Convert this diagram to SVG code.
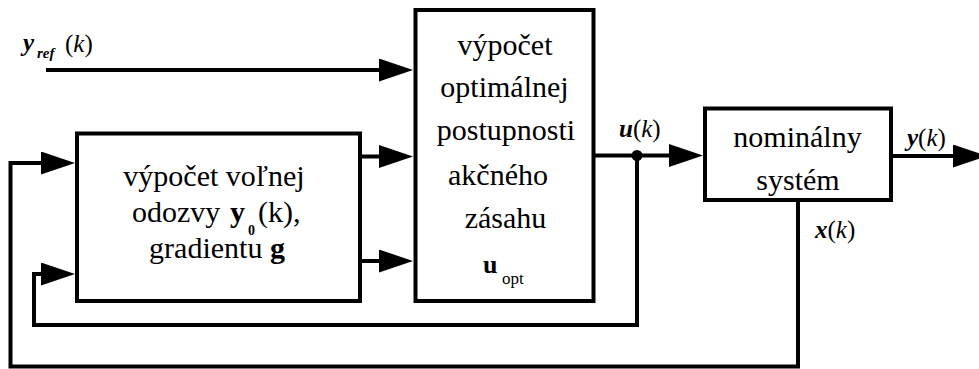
<svg xmlns="http://www.w3.org/2000/svg" width="979" height="369" viewBox="0 0 979 369">
  <style>
    .box { fill: #fff; stroke: #000; stroke-width: 4; }
    .wire { fill: none; stroke: #000; stroke-width: 4; stroke-linejoin: miter; stroke-linecap: butt; }
    .bi { font-weight: bold; font-style: italic; }
    .b { font-weight: bold; }
    .i { font-style: italic; }
  </style>
  <defs>
    <marker id="arrow" markerUnits="userSpaceOnUse" markerWidth="34" markerHeight="23" refX="14" refY="11.5" orient="auto">
      <path d="M0,0 L34,11.5 L0,23 Z" fill="#000"/>
    </marker>
  </defs>

  <!-- signal lines -->
  <g id="connectors">
    <path class="wire" d="M46 70 H393" marker-end="url(#arrow)"/>
    <path class="wire" d="M361 156.5 H393" marker-end="url(#arrow)"/>
    <path class="wire" d="M361 261 H393" marker-end="url(#arrow)"/>
    <path class="wire" d="M593 155.5 H683" marker-end="url(#arrow)"/>
    <path class="wire" d="M891 156 H967" marker-end="url(#arrow)"/>
    <path class="wire" d="M637 155.5 V325 H34 V274 H55" marker-end="url(#arrow)"/>
    <path class="wire" d="M798 200 V366.5 H10.5 V163 H55" marker-end="url(#arrow)"/>
    <circle cx="637" cy="155.5" r="5.5" fill="#000"/>
    <text font-family="Liberation Serif" font-size="25" x="23" y="51"><tspan class="bi">y</tspan><tspan class="bi" font-size="15" x="37" y="58">ref</tspan><tspan x="65" y="52">(</tspan><tspan class="i">k</tspan><tspan>)</tspan></text>
    <text font-family="Liberation Serif" font-size="25" x="619" y="137"><tspan class="bi">u</tspan><tspan>(</tspan><tspan class="i">k</tspan><tspan>)</tspan></text>
    <text font-family="Liberation Serif" font-size="25" x="907" y="146"><tspan class="bi">y</tspan><tspan>(</tspan><tspan class="i">k</tspan><tspan>)</tspan></text>
    <text font-family="Liberation Serif" font-size="25" x="815" y="238"><tspan class="bi">x</tspan><tspan>(</tspan><tspan class="i">k</tspan><tspan>)</tspan></text>
  </g>

  <!-- free response and gradient -->
  <g id="free-response">
    <rect class="box" x="77" y="133.5" width="283" height="167.5"/>
    <text font-family="Liberation Serif" font-size="30" x="214" y="186" text-anchor="middle">výpočet voľnej</text>
    <text font-family="Liberation Serif" font-size="30" x="132" y="222"><tspan>odozvy</tspan><tspan class="b" x="230">y</tspan><tspan class="b" font-size="14" x="248" y="235">0</tspan><tspan x="258" y="222">(k),</tspan></text>
    <text font-family="Liberation Serif" font-size="30" x="217" y="258" text-anchor="middle">gradientu <tspan class="b">g</tspan></text>
  </g>

  <!-- optimal control sequence -->
  <g id="optimizer">
    <rect class="box" x="415.5" y="10" width="178" height="291"/>
    <text font-family="Liberation Serif" font-size="30" x="505" y="55" text-anchor="middle">výpočet</text>
    <text font-family="Liberation Serif" font-size="30" x="504.5" y="97" text-anchor="middle">optimálnej</text>
    <text font-family="Liberation Serif" font-size="30" x="506" y="140" text-anchor="middle">postupnosti</text>
    <text font-family="Liberation Serif" font-size="30" x="498" y="185" text-anchor="middle">akčného</text>
    <text font-family="Liberation Serif" font-size="30" x="505.5" y="228" text-anchor="middle">zásahu</text>
    <text font-family="Liberation Serif" font-size="28" x="483" y="273"><tspan class="b" font-size="26">u</tspan><tspan font-size="17" x="502" y="284">opt</tspan></text>
  </g>

  <!-- nominal system -->
  <g id="plant">
    <rect class="box" x="705" y="108.5" width="186" height="91.5"/>
    <text font-family="Liberation Serif" font-size="30" x="797.5" y="147" text-anchor="middle">nominálny</text>
    <text font-family="Liberation Serif" font-size="30" x="798" y="190" text-anchor="middle">systém</text>
  </g>
</svg>
